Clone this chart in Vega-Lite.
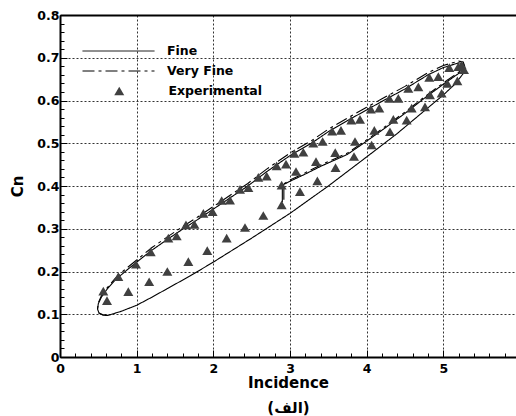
{
  "$schema": "https://vega.github.io/schema/vega-lite/v6.json",
  "width": 456,
  "height": 342,
  "autosize": {"type": "none"},
  "padding": {"left": 60, "top": 15, "right": 0, "bottom": 59},
  "background": "white",
  "config": {
    "view": {"stroke": null},
    "font": "DejaVu Sans"
  },
  "datasets": {
    "curves": [
      {"series": "Fine", "i": 0, "x": 2.9, "y": 0.362},
      {"series": "Fine", "i": 1, "x": 2.9, "y": 0.402},
      {"series": "Fine", "i": 2, "x": 3.0, "y": 0.411},
      {"series": "Fine", "i": 3, "x": 3.2, "y": 0.428},
      {"series": "Fine", "i": 4, "x": 3.4, "y": 0.446},
      {"series": "Fine", "i": 5, "x": 3.6, "y": 0.462},
      {"series": "Fine", "i": 6, "x": 3.75, "y": 0.474},
      {"series": "Fine", "i": 7, "x": 4.0, "y": 0.505},
      {"series": "Fine", "i": 8, "x": 4.25, "y": 0.537},
      {"series": "Fine", "i": 9, "x": 4.5, "y": 0.57},
      {"series": "Fine", "i": 10, "x": 4.75, "y": 0.605},
      {"series": "Fine", "i": 11, "x": 5.0, "y": 0.638},
      {"series": "Fine", "i": 12, "x": 5.15, "y": 0.657},
      {"series": "Fine", "i": 13, "x": 5.24, "y": 0.668},
      {"series": "Fine", "i": 14, "x": 5.28, "y": 0.677},
      {"series": "Fine", "i": 15, "x": 5.26, "y": 0.686},
      {"series": "Fine", "i": 16, "x": 5.2, "y": 0.688},
      {"series": "Fine", "i": 17, "x": 5.0, "y": 0.677},
      {"series": "Fine", "i": 18, "x": 4.8, "y": 0.66},
      {"series": "Fine", "i": 19, "x": 4.5, "y": 0.627},
      {"series": "Fine", "i": 20, "x": 4.2, "y": 0.598},
      {"series": "Fine", "i": 21, "x": 4.0, "y": 0.578},
      {"series": "Fine", "i": 22, "x": 3.75, "y": 0.553},
      {"series": "Fine", "i": 23, "x": 3.5, "y": 0.527},
      {"series": "Fine", "i": 24, "x": 3.28, "y": 0.5},
      {"series": "Fine", "i": 25, "x": 3.0, "y": 0.471},
      {"series": "Fine", "i": 26, "x": 2.7, "y": 0.434},
      {"series": "Fine", "i": 27, "x": 2.45, "y": 0.4},
      {"series": "Fine", "i": 28, "x": 2.2, "y": 0.37},
      {"series": "Fine", "i": 29, "x": 2.0, "y": 0.346},
      {"series": "Fine", "i": 30, "x": 1.8, "y": 0.322},
      {"series": "Fine", "i": 31, "x": 1.6, "y": 0.299},
      {"series": "Fine", "i": 32, "x": 1.4, "y": 0.275},
      {"series": "Fine", "i": 33, "x": 1.2, "y": 0.25},
      {"series": "Fine", "i": 34, "x": 1.0, "y": 0.222},
      {"series": "Fine", "i": 35, "x": 0.85, "y": 0.2},
      {"series": "Fine", "i": 36, "x": 0.72, "y": 0.18},
      {"series": "Fine", "i": 37, "x": 0.62, "y": 0.16},
      {"series": "Fine", "i": 38, "x": 0.54, "y": 0.14},
      {"series": "Fine", "i": 39, "x": 0.5, "y": 0.125},
      {"series": "Fine", "i": 40, "x": 0.49, "y": 0.112},
      {"series": "Fine", "i": 41, "x": 0.51, "y": 0.102},
      {"series": "Fine", "i": 42, "x": 0.56, "y": 0.098},
      {"series": "Fine", "i": 43, "x": 0.62, "y": 0.097},
      {"series": "Fine", "i": 44, "x": 0.8, "y": 0.107},
      {"series": "Fine", "i": 45, "x": 1.0, "y": 0.121},
      {"series": "Fine", "i": 46, "x": 1.2, "y": 0.14},
      {"series": "Fine", "i": 47, "x": 1.4, "y": 0.16},
      {"series": "Fine", "i": 48, "x": 1.7, "y": 0.19},
      {"series": "Fine", "i": 49, "x": 2.0, "y": 0.222},
      {"series": "Fine", "i": 50, "x": 2.5, "y": 0.278},
      {"series": "Fine", "i": 51, "x": 3.0, "y": 0.336},
      {"series": "Fine", "i": 52, "x": 3.5, "y": 0.4},
      {"series": "Fine", "i": 53, "x": 4.0, "y": 0.468},
      {"series": "Fine", "i": 54, "x": 4.4, "y": 0.523},
      {"series": "Fine", "i": 55, "x": 4.7, "y": 0.568},
      {"series": "Fine", "i": 56, "x": 5.0, "y": 0.613},
      {"series": "Fine", "i": 57, "x": 5.15, "y": 0.638},
      {"series": "Fine", "i": 58, "x": 5.26, "y": 0.663},
      {"series": "Fine", "i": 59, "x": 5.28, "y": 0.677},
      {"series": "Very Fine", "i": 0, "x": 2.92, "y": 0.368},
      {"series": "Very Fine", "i": 1, "x": 2.92, "y": 0.405},
      {"series": "Very Fine", "i": 2, "x": 3.0, "y": 0.414},
      {"series": "Very Fine", "i": 3, "x": 3.2, "y": 0.431},
      {"series": "Very Fine", "i": 4, "x": 3.4, "y": 0.449},
      {"series": "Very Fine", "i": 5, "x": 3.6, "y": 0.465},
      {"series": "Very Fine", "i": 6, "x": 3.75, "y": 0.477},
      {"series": "Very Fine", "i": 7, "x": 4.0, "y": 0.508},
      {"series": "Very Fine", "i": 8, "x": 4.25, "y": 0.54},
      {"series": "Very Fine", "i": 9, "x": 4.5, "y": 0.573},
      {"series": "Very Fine", "i": 10, "x": 4.75, "y": 0.608},
      {"series": "Very Fine", "i": 11, "x": 5.0, "y": 0.641},
      {"series": "Very Fine", "i": 12, "x": 5.15, "y": 0.66},
      {"series": "Very Fine", "i": 13, "x": 5.24, "y": 0.671},
      {"series": "Very Fine", "i": 14, "x": 5.28, "y": 0.68},
      {"series": "Very Fine", "i": 15, "x": 5.26, "y": 0.69},
      {"series": "Very Fine", "i": 16, "x": 5.2, "y": 0.692},
      {"series": "Very Fine", "i": 17, "x": 5.0, "y": 0.682},
      {"series": "Very Fine", "i": 18, "x": 4.8, "y": 0.665},
      {"series": "Very Fine", "i": 19, "x": 4.5, "y": 0.633},
      {"series": "Very Fine", "i": 20, "x": 4.2, "y": 0.604},
      {"series": "Very Fine", "i": 21, "x": 4.0, "y": 0.584},
      {"series": "Very Fine", "i": 22, "x": 3.75, "y": 0.559},
      {"series": "Very Fine", "i": 23, "x": 3.5, "y": 0.533},
      {"series": "Very Fine", "i": 24, "x": 3.28, "y": 0.506},
      {"series": "Very Fine", "i": 25, "x": 3.0, "y": 0.477},
      {"series": "Very Fine", "i": 26, "x": 2.7, "y": 0.44},
      {"series": "Very Fine", "i": 27, "x": 2.45, "y": 0.406},
      {"series": "Very Fine", "i": 28, "x": 2.2, "y": 0.376},
      {"series": "Very Fine", "i": 29, "x": 2.0, "y": 0.352},
      {"series": "Very Fine", "i": 30, "x": 1.8, "y": 0.328},
      {"series": "Very Fine", "i": 31, "x": 1.6, "y": 0.305},
      {"series": "Very Fine", "i": 32, "x": 1.4, "y": 0.281},
      {"series": "Very Fine", "i": 33, "x": 1.2, "y": 0.256},
      {"series": "Very Fine", "i": 34, "x": 1.0, "y": 0.227},
      {"series": "Very Fine", "i": 35, "x": 0.85, "y": 0.205},
      {"series": "Very Fine", "i": 36, "x": 0.72, "y": 0.184},
      {"series": "Very Fine", "i": 37, "x": 0.62, "y": 0.163},
      {"series": "Very Fine", "i": 38, "x": 0.54, "y": 0.143},
      {"series": "Very Fine", "i": 39, "x": 0.5, "y": 0.127},
      {"series": "Very Fine", "i": 40, "x": 0.49, "y": 0.113},
      {"series": "Very Fine", "i": 41, "x": 0.51, "y": 0.103},
      {"series": "Very Fine", "i": 42, "x": 0.56, "y": 0.099},
      {"series": "Very Fine", "i": 43, "x": 0.62, "y": 0.098}
    ],
    "exp": [
      {"series": "Experimental", "x": 0.565, "y": 0.154},
      {"series": "Experimental", "x": 0.613, "y": 0.132},
      {"series": "Experimental", "x": 0.891, "y": 0.153},
      {"series": "Experimental", "x": 0.761, "y": 0.188},
      {"series": "Experimental", "x": 0.991, "y": 0.217},
      {"series": "Experimental", "x": 1.163, "y": 0.176},
      {"series": "Experimental", "x": 1.183, "y": 0.246},
      {"series": "Experimental", "x": 1.4, "y": 0.2},
      {"series": "Experimental", "x": 1.413, "y": 0.278},
      {"series": "Experimental", "x": 1.522, "y": 0.283},
      {"series": "Experimental", "x": 1.674, "y": 0.223},
      {"series": "Experimental", "x": 1.643, "y": 0.309},
      {"series": "Experimental", "x": 1.754, "y": 0.31},
      {"series": "Experimental", "x": 1.921, "y": 0.249},
      {"series": "Experimental", "x": 2.174, "y": 0.278},
      {"series": "Experimental", "x": 2.413, "y": 0.303},
      {"series": "Experimental", "x": 2.652, "y": 0.331},
      {"series": "Experimental", "x": 1.87, "y": 0.336},
      {"series": "Experimental", "x": 1.99, "y": 0.34},
      {"series": "Experimental", "x": 2.109, "y": 0.366},
      {"series": "Experimental", "x": 2.217, "y": 0.367},
      {"series": "Experimental", "x": 2.348, "y": 0.392},
      {"series": "Experimental", "x": 2.457, "y": 0.396},
      {"series": "Experimental", "x": 2.587, "y": 0.42},
      {"series": "Experimental", "x": 2.696, "y": 0.423},
      {"series": "Experimental", "x": 2.826, "y": 0.447},
      {"series": "Experimental", "x": 2.948, "y": 0.451},
      {"series": "Experimental", "x": 2.891, "y": 0.402},
      {"series": "Experimental", "x": 2.891, "y": 0.356},
      {"series": "Experimental", "x": 3.078, "y": 0.434},
      {"series": "Experimental", "x": 3.13, "y": 0.387},
      {"series": "Experimental", "x": 3.057, "y": 0.476},
      {"series": "Experimental", "x": 3.174, "y": 0.479},
      {"series": "Experimental", "x": 3.304, "y": 0.5},
      {"series": "Experimental", "x": 3.426, "y": 0.504},
      {"series": "Experimental", "x": 3.339, "y": 0.457},
      {"series": "Experimental", "x": 3.357, "y": 0.412},
      {"series": "Experimental", "x": 3.55, "y": 0.528},
      {"series": "Experimental", "x": 3.665, "y": 0.53},
      {"series": "Experimental", "x": 3.59, "y": 0.478},
      {"series": "Experimental", "x": 3.594, "y": 0.443},
      {"series": "Experimental", "x": 3.8, "y": 0.554},
      {"series": "Experimental", "x": 3.913, "y": 0.556},
      {"series": "Experimental", "x": 3.848, "y": 0.504},
      {"series": "Experimental", "x": 3.835, "y": 0.469},
      {"series": "Experimental", "x": 4.054, "y": 0.58},
      {"series": "Experimental", "x": 4.1, "y": 0.53},
      {"series": "Experimental", "x": 4.065, "y": 0.496},
      {"series": "Experimental", "x": 4.165, "y": 0.582},
      {"series": "Experimental", "x": 4.304, "y": 0.527},
      {"series": "Experimental", "x": 4.348, "y": 0.556},
      {"series": "Experimental", "x": 4.296, "y": 0.605},
      {"series": "Experimental", "x": 4.413, "y": 0.605},
      {"series": "Experimental", "x": 4.522, "y": 0.554},
      {"series": "Experimental", "x": 4.587, "y": 0.582},
      {"series": "Experimental", "x": 4.543, "y": 0.628},
      {"series": "Experimental", "x": 4.674, "y": 0.632},
      {"series": "Experimental", "x": 4.761, "y": 0.585},
      {"series": "Experimental", "x": 4.826, "y": 0.613},
      {"series": "Experimental", "x": 4.817, "y": 0.654},
      {"series": "Experimental", "x": 4.935, "y": 0.656},
      {"series": "Experimental", "x": 4.978, "y": 0.617},
      {"series": "Experimental", "x": 5.052, "y": 0.64},
      {"series": "Experimental", "x": 5.078, "y": 0.677},
      {"series": "Experimental", "x": 5.183, "y": 0.646},
      {"series": "Experimental", "x": 5.196, "y": 0.679},
      {"series": "Experimental", "x": 5.239, "y": 0.683},
      {"series": "Experimental", "x": 5.27, "y": 0.672}
    ]
  },
  "encoding": {
    "y": {
      "field": "y", "type": "quantitative",
      "scale": {"domain": [0, 0.8], "nice": false, "zero": false},
      "axis": {
        "orient": "left",
        "values": [0, 0.02, 0.04, 0.06, 0.08, 0.1, 0.12, 0.14, 0.16, 0.18, 0.2, 0.22, 0.24, 0.26, 0.28, 0.3, 0.32, 0.34, 0.36, 0.38, 0.4, 0.42, 0.44, 0.46, 0.48, 0.5, 0.52, 0.54, 0.56, 0.58, 0.6, 0.62, 0.64, 0.66, 0.68, 0.7, 0.72, 0.74, 0.76, 0.78, 0.8],
        "labelExpr": "abs(datum.value * 10 - round(datum.value * 10)) < 0.001 ? format(datum.value, '.1~f') : ''",
        "labelFont": "DejaVu Sans", "labelFontSize": 12.5, "labelFontWeight": "bold", "labelColor": "black",
        "labelFlush": false, "labelOverlap": false, "labelBound": false,
        "labelPadding": 8,
        "tickSize": {"condition": {"test": "abs(datum.value * 10 - round(datum.value * 10)) < 0.001", "value": -7}, "value": -4},
        "tickColor": "black", "tickWidth": 1,
        "grid": true, "gridDash": [2, 2], "gridColor": "#333333",
        "gridOpacity": {"condition": {"test": "abs(datum.value * 10 - round(datum.value * 10)) < 0.001", "value": 1}, "value": 0},
        "domainColor": "black", "domainWidth": 2,
        "title": "Cn",
        "titleFont": "DejaVu Sans", "titleFontSize": 15, "titleFontWeight": "bold", "titleColor": "black",
        "titlePadding": 11
      }
    }
  },
  "layer": [
    {
      "data": {"name": "curves"},
      "mark": {"type": "line", "color": "black", "strokeWidth": 1.1},
      "encoding": {
        "x": {
          "field": "x", "type": "quantitative",
          "scale": {"domain": [0, 5.948], "nice": false, "zero": false},
          "axis": {
            "orient": "bottom",
            "values": [0, 0.2, 0.4, 0.6, 0.8, 1, 1.2, 1.4, 1.6, 1.8, 2, 2.2, 2.4, 2.6, 2.8, 3, 3.2, 3.4, 3.6, 3.8, 4, 4.2, 4.4, 4.6, 4.8, 5, 5.2, 5.4, 5.6, 5.8, 6],
            "labelExpr": "datum.value % 1 === 0 ? format(datum.value, 'd') : ''",
            "labelFont": "DejaVu Sans", "labelFontSize": 12.5, "labelFontWeight": "bold", "labelColor": "black",
            "labelAlign": {"condition": {"test": "datum.value >= 6", "value": "right"}, "value": "center"},
            "labelFlush": false, "labelOverlap": false, "labelBound": false,
            "labelPadding": 12,
            "tickSize": {"condition": {"test": "datum.value % 1 === 0", "value": -7}, "value": -4},
            "tickColor": "black", "tickWidth": 1,
            "grid": true, "gridDash": [2, 2], "gridColor": "#333333",
            "gridOpacity": {"condition": {"test": "datum.value % 1 === 0", "value": 1}, "value": 0},
            "domainColor": "black", "domainWidth": 2,
            "title": ["Incidence", "(الف)"],
            "titleFont": "DejaVu Sans", "titleFontSize": 15, "titleFontWeight": "bold", "titleColor": "black",
            "titleLineHeight": 25, "titlePadding": -2
          }
        },
        "strokeDash": {
          "field": "series", "type": "nominal",
          "scale": {"domain": ["Fine", "Very Fine"], "range": [[1, 0], [12, 4, 3, 4]]},
          "legend": {
            "title": null, "orient": "none", "legendX": 22, "legendY": 26,
            "padding": 0, "clipHeight": 20, "rowPadding": 0,
            "symbolType": "stroke", "symbolSize": 5184, "symbolStrokeWidth": 1, "symbolStrokeColor": "black",
            "labelFont": "DejaVu Sans", "labelFontSize": 12.5, "labelFontWeight": "bold", "labelColor": "black",
            "labelOffset": 12
          }
        },
        "order": {"field": "i", "type": "quantitative"}
      }
    },
    {
      "data": {"name": "exp"},
      "mark": {"type": "point", "filled": true, "color": "#404040", "opacity": 1, "size": 100},
      "encoding": {
        "x": {
          "field": "x", "type": "quantitative",
          "axis": {"orient": "top", "ticks": false, "labels": false, "grid": false, "title": null, "domainColor": "black", "domainWidth": 2}
        },
        "shape": {
          "field": "series", "type": "nominal",
          "scale": {"domain": ["Experimental"], "range": ["triangle-up"]},
          "legend": {
            "title": null, "orient": "none", "legendX": 53, "legendY": 66,
            "padding": 0, "clipHeight": 20, "rowPadding": 0,
            "symbolSize": 100,
            "labelFont": "DejaVu Sans", "labelFontSize": 12.5, "labelFontWeight": "bold", "labelColor": "black",
            "labelOffset": 43
          }
        }
      }
    }
  ],
  "resolve": {"axis": {"x": "independent"}}
}
